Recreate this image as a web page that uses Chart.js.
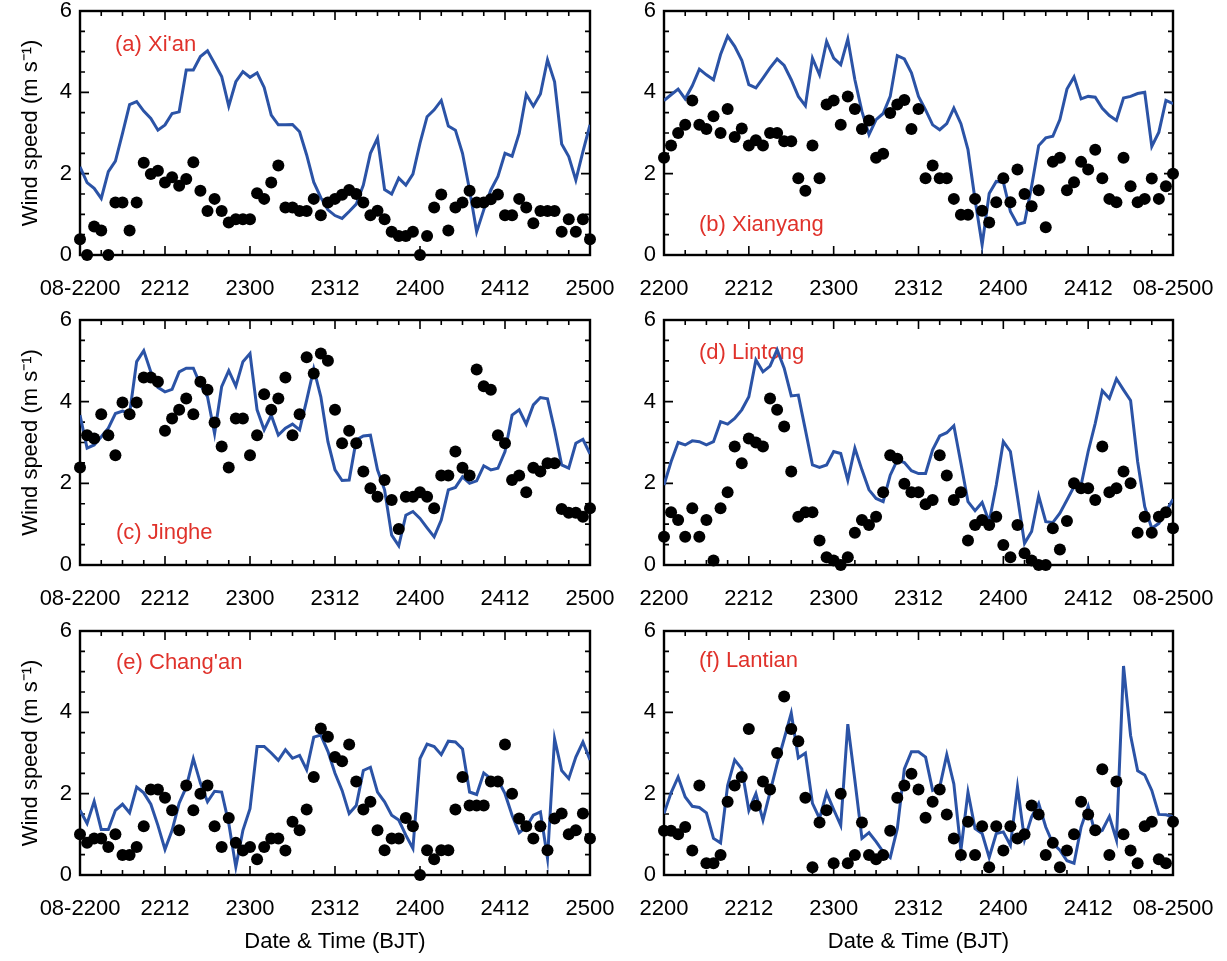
<!DOCTYPE html>
<html>
<head>
<meta charset="utf-8">
<script src="https://cdn.jsdelivr.net/npm/chart.js@4/dist/chart.umd.min.js"></script>
<style>
  body { margin: 0; background: #fff; }
  #wrap { position: relative; width: 1227px; height: 961px; overflow: hidden; }
  #wrap canvas { position: absolute; }
</style>
</head>
<body>
<div id="wrap"></div>
<script>
// hours since 08-22 00 BJT, hourly to 08-25 00
const hours = [];
for (let h = 0; h <= 72; h++) hours.push(h);

const tickLeft = ['08-2200', '2212', '2300', '2312', '2400', '2412', '2500'];
const tickRight = ['2200', '2212', '2300', '2312', '2400', '2412', '08-2500'];

// (a) Xi'an
const simXian = [2.17, 1.78, 1.64, 1.39, 2.05, 2.31, 2.99, 3.70, 3.77, 3.54,
    3.36, 3.07, 3.20, 3.48, 3.52, 4.55, 4.55, 4.88, 5.02, 4.71,
    4.39, 3.66, 4.26, 4.51, 4.37, 4.48, 4.12, 3.44, 3.20, 3.20,
    3.21, 3.03, 2.46, 1.79, 1.41, 1.11, 0.97, 0.90, 1.07, 1.25,
    1.72, 2.50, 2.87, 1.61, 1.50, 1.89, 1.72, 1.99, 2.75, 3.40,
    3.57, 3.80, 3.17, 3.07, 2.50, 1.60, 0.57, 1.11, 1.60, 1.93,
    2.50, 2.43, 2.99, 3.95, 3.66, 3.96, 4.80, 4.26, 2.73, 2.42,
    1.84, 2.54, 3.20];
const obsXian = [0.39, 0, 0.70, 0.60, 0, 1.29, 1.29, 0.60, 1.29, 2.27,
    1.99, 2.07, 1.78, 1.91, 1.70, 1.87, 2.28, 1.58, 1.08, 1.38,
    1.08, 0.80, 0.88, 0.88, 0.88, 1.52, 1.38, 1.78, 2.20, 1.17,
    1.17, 1.08, 1.08, 1.38, 0.98, 1.29, 1.38, 1.48, 1.60, 1.50,
    1.29, 0.98, 1.09, 0.88, 0.57, 0.47, 0.47, 0.57, 0, 0.47,
    1.17, 1.49, 0.60, 1.17, 1.29, 1.58, 1.29, 1.29, 1.37, 1.49,
    0.98, 0.98, 1.38, 1.17, 0.78, 1.08, 1.08, 1.08, 0.57, 0.88,
    0.57, 0.88, 0.39];

// (b) Xianyang
const simXianyang = [3.80, 3.94, 4.08, 3.84, 4.16, 4.57, 4.43, 4.31, 4.93, 5.38,
    5.13, 4.79, 4.19, 4.11, 4.35, 4.60, 4.82, 4.66, 4.31, 3.90,
    3.67, 4.84, 4.43, 5.25, 4.84, 4.68, 5.31, 4.31, 3.53, 2.96,
    3.33, 3.48, 3.90, 4.90, 4.82, 4.48, 3.90, 3.57, 3.20, 3.08,
    3.23, 3.61, 3.23, 2.59, 1.36, 0.25, 1.51, 1.81, 1.79, 1.07,
    0.75, 0.80, 1.69, 2.69, 2.88, 2.92, 3.33, 4.08, 4.38, 3.84,
    3.90, 3.88, 3.61, 3.43, 3.31, 3.86, 3.90, 3.97, 4.00, 2.67,
    3.02, 3.80, 3.72];
const obsXianyang = [2.39, 2.69, 3.00, 3.20, 3.80, 3.20, 3.10, 3.41, 3.00, 3.59,
    2.90, 3.11, 2.69, 2.82, 2.69, 3.00, 3.00, 2.80, 2.80, 1.89,
    1.58, 2.69, 1.89, 3.70, 3.80, 3.20, 3.90, 3.59, 3.10, 3.31,
    2.39, 2.49, 3.49, 3.70, 3.81, 3.10, 3.59, 1.89, 2.20, 1.89,
    1.89, 1.38, 0.99, 0.99, 1.38, 1.09, 0.80, 1.30, 1.89, 1.30,
    2.10, 1.50, 1.20, 1.59, 0.68, 2.29, 2.39, 1.59, 1.79, 2.29,
    2.10, 2.59, 1.89, 1.38, 1.30, 2.39, 1.69, 1.30, 1.38, 1.88,
    1.38, 1.69, 2.00];

// (c) Jinghe
const simJinghe = [3.67, 2.86, 2.94, 3.14, 3.35, 3.71, 3.77, 3.71, 4.98, 5.25,
    4.73, 4.35, 4.24, 4.30, 4.73, 4.82, 4.82, 4.41, 4.12, 3.22,
    4.37, 4.76, 4.38, 4.98, 5.18, 3.80, 3.31, 3.67, 3.18, 3.35,
    3.45, 3.31, 4.04, 4.80, 4.12, 3.02, 2.33, 2.07, 2.08, 3.06,
    3.16, 3.18, 2.33, 1.84, 0.73, 0.47, 1.22, 1.31, 1.14, 0.91,
    0.69, 1.10, 1.84, 1.90, 2.16, 2.00, 2.06, 2.43, 2.33, 2.37,
    2.78, 3.67, 3.80, 3.45, 3.92, 4.10, 4.07, 3.31, 2.45, 2.37,
    2.98, 3.08, 2.72];
const obsJinghe = [2.39, 3.18, 3.10, 3.69, 3.18, 2.69, 3.98, 3.69, 3.98, 4.59,
    4.59, 4.49, 3.29, 3.59, 3.80, 4.08, 3.69, 4.49, 4.29, 3.49,
    2.90, 2.39, 3.59, 3.59, 2.69, 3.18, 4.18, 3.80, 4.08, 4.59,
    3.18, 3.69, 5.09, 4.69, 5.18, 5.00, 3.80, 2.98, 3.29, 2.98,
    2.29, 1.88, 1.67, 2.08, 1.59, 0.88, 1.67, 1.67, 1.78, 1.67,
    1.39, 2.19, 2.19, 2.78, 2.38, 2.19, 4.79, 4.38, 4.29, 3.18,
    2.98, 2.08, 2.19, 1.78, 2.38, 2.29, 2.49, 2.49, 1.37, 1.28,
    1.28, 1.18, 1.39];

// (d) Lintong
const simLintong = [1.96, 2.53, 3.00, 2.94, 3.04, 3.02, 2.94, 3.02, 3.51, 3.45,
    3.59, 3.80, 4.12, 5.02, 4.73, 4.87, 5.27, 4.82, 4.14, 4.16,
    3.31, 2.45, 2.39, 2.45, 2.78, 2.73, 2.08, 2.86, 2.33, 1.84,
    1.63, 1.55, 2.20, 2.57, 2.51, 2.31, 2.24, 2.24, 2.82, 3.16,
    3.24, 3.41, 2.49, 1.55, 1.33, 1.53, 1.06, 1.96, 3.02, 2.78,
    1.67, 0.53, 0.82, 1.69, 1.06, 1.04, 1.27, 1.59, 1.92, 1.96,
    2.78, 3.47, 4.27, 4.08, 4.56, 4.29, 4.03, 2.53, 1.43, 0.90,
    1.02, 1.31, 1.61];
const obsLintong = [0.69, 1.29, 1.10, 0.69, 1.39, 0.69, 1.10, 0.11, 1.39, 1.78,
    2.90, 2.49, 3.10, 3.00, 2.90, 4.08, 3.80, 3.39, 2.29, 1.18,
    1.29, 1.29, 0.60, 0.19, 0.11, 0, 0.19, 0.79, 1.10, 0.98,
    1.18, 1.78, 2.69, 2.60, 1.99, 1.78, 1.78, 1.49, 1.59, 2.69,
    2.19, 1.59, 1.78, 0.60, 0.98, 1.10, 0.98, 1.18, 0.49, 0.19,
    0.98, 0.29, 0.11, 0, 0, 0.90, 0.38, 1.08, 2.00, 1.88,
    1.88, 1.59, 2.90, 1.78, 1.88, 2.29, 2.00, 0.79, 1.18, 0.79,
    1.18, 1.29, 0.90];

// (e) Chang'an
const simChangan = [1.59, 1.27, 1.81, 1.12, 1.12, 1.59, 1.74, 1.53, 2.16, 2.02,
    1.74, 1.22, 0.63, 1.10, 1.77, 2.16, 2.86, 2.26, 1.80, 2.06,
    2.04, 1.27, 0.20, 1.10, 1.63, 3.16, 3.16, 3.00, 2.82, 3.08,
    2.87, 2.94, 2.59, 3.39, 3.44, 3.04, 2.50, 2.08, 1.51, 1.71,
    2.57, 2.65, 2.04, 1.80, 1.47, 1.35, 0.98, 0.65, 2.86, 3.22,
    3.16, 2.96, 3.29, 3.27, 3.10, 2.04, 1.98, 2.51, 2.37, 2.34,
    2.00, 1.47, 1.04, 1.18, 1.47, 1.55, 0.41, 3.35, 2.57, 2.37,
    2.90, 3.27, 2.83];
const obsChangan = [1.00, 0.79, 0.90, 0.90, 0.69, 1.00, 0.49, 0.49, 0.69, 1.20,
    2.10, 2.10, 1.90, 1.59, 1.10, 2.20, 1.59, 2.00, 2.20, 1.20,
    0.69, 1.40, 0.79, 0.60, 0.69, 0.39, 0.69, 0.90, 0.90, 0.60,
    1.31, 1.10, 1.61, 2.41, 3.60, 3.40, 2.90, 2.80, 3.21, 2.30,
    1.61, 1.80, 1.10, 0.61, 0.90, 0.90, 1.40, 1.20, 0, 0.61,
    0.39, 0.61, 0.61, 1.61, 2.41, 1.71, 1.71, 1.71, 2.30, 2.30,
    3.21, 2.00, 1.39, 1.20, 0.90, 1.20, 0.61, 1.39, 1.51, 1.00,
    1.10, 1.51, 0.90];

// (f) Lantian
const simLantian = [1.51, 2.02, 2.41, 1.92, 1.69, 1.66, 1.53, 0.90, 0.79, 2.20,
    2.83, 2.61, 1.59, 2.00, 1.35, 2.04, 2.73, 3.35, 3.98, 2.88,
    3.00, 1.76, 1.39, 2.02, 1.61, 1.22, 3.71, 2.33, 0.90, 1.04,
    0.82, 0.57, 0.43, 1.14, 2.61, 3.03, 3.03, 2.90, 2.08, 2.16,
    2.96, 2.24, 0.61, 2.04, 1.14, 1.02, 0.43, 1.02, 1.06, 0.73,
    2.16, 0.87, 1.43, 1.76, 1.18, 0.78, 0.61, 0.35, 0.29, 1.18,
    1.69, 1.02, 1.10, 1.44, 0.86, 5.14, 3.43, 2.56, 2.46, 2.08,
    1.49, 1.48, 1.43];
const obsLantian = [1.09, 1.09, 1.00, 1.18, 0.60, 2.20, 0.29, 0.29, 0.49, 1.80,
    2.20, 2.41, 3.59, 1.70, 2.30, 2.10, 3.00, 4.39, 3.59, 3.29,
    1.90, 0.19, 1.29, 1.59, 0.29, 2.00, 0.29, 0.49, 1.29, 0.49,
    0.39, 0.49, 1.09, 1.90, 2.20, 2.49, 2.10, 1.41, 1.80, 2.10,
    1.49, 0.90, 0.49, 1.31, 0.49, 1.20, 0.19, 1.20, 0.60, 1.20,
    0.90, 1.00, 1.71, 1.49, 0.49, 0.79, 0.19, 0.60, 1.00, 1.80,
    1.49, 1.10, 2.60, 0.49, 2.30, 1.00, 0.60, 0.29, 1.20, 1.31,
    0.39, 0.29, 1.31];

const panels = [
    { name: "(a) Xi'an", sim: simXian, obs: obsXian, ticks: tickLeft, col: 0, row: 0, lx: 35, ly: 34 },
    { name: '(b) Xianyang', sim: simXianyang, obs: obsXianyang, ticks: tickRight, col: 1, row: 0, lx: 35, ly: 214 },
    { name: '(c) Jinghe', sim: simJinghe, obs: obsJinghe, ticks: tickLeft, col: 0, row: 1, lx: 36, ly: 213 },
    { name: '(d) Lintong', sim: simLintong, obs: obsLintong, ticks: tickRight, col: 1, row: 1, lx: 35, ly: 33 },
    { name: "(e) Chang'an", sim: simChangan, obs: obsChangan, ticks: tickLeft, col: 0, row: 2, lx: 36, ly: 32 },
    { name: '(f) Lantian', sim: simLantian, obs: obsLantian, ticks: tickRight, col: 1, row: 2, lx: 35, ly: 30 },
];

// canvas placement per column / row
const cols = [
    { left: 0, width: 620, yWidth: 80, padRight: 30 },
    { left: 605, width: 622, yWidth: 59, padRight: 54 },
];
const rows = [
    { top: 0, height: 300, padTop: 11, xHeight: 45 },
    { top: 305, height: 305, padTop: 15, xHeight: 45 },
    { top: 616, height: 345, padTop: 15, xHeight: 86 },
];

const FONT = 'Helvetica, Arial, "Liberation Sans", sans-serif';
Chart.defaults.font.family = FONT;
Chart.defaults.font.size = 22;
Chart.defaults.color = '#000';

// box, inward ticks (IDL style) and the station label
const framePlugin = {
    id: 'frame',
    beforeDatasetsDraw(chart, args, opts) {
        const { ctx, chartArea: a, scales: { x, y } } = chart;
        ctx.save();
        ctx.strokeStyle = '#000';
        ctx.lineWidth = 1.6;
        ctx.beginPath();
        for (let h = 0; h <= 72; h += 3) {
            const px = x.getPixelForValue(h);
            const len = h % 12 === 0 ? 9 : 5;
            ctx.moveTo(px, a.bottom); ctx.lineTo(px, a.bottom - len);
            ctx.moveTo(px, a.top); ctx.lineTo(px, a.top + len);
        }
        for (let v = 0; v <= 6; v += 0.5) {
            const py = y.getPixelForValue(v);
            const len = v % 2 === 0 ? 9 : 5;
            ctx.moveTo(a.left, py); ctx.lineTo(a.left + len, py);
            ctx.moveTo(a.right, py); ctx.lineTo(a.right - len, py);
        }
        ctx.stroke();
        ctx.lineWidth = 2.4;
        ctx.strokeRect(a.left, a.top, a.right - a.left, a.bottom - a.top);

        ctx.fillStyle = '#e0322b';
        ctx.font = '22px ' + FONT;
        ctx.textBaseline = 'middle';
        ctx.textAlign = 'left';
        ctx.fillText(opts.name, a.left + opts.lx, a.top + opts.ly);
        ctx.restore();
    }
};

const wrap = document.getElementById('wrap');

panels.forEach(function (p) {
    const c = cols[p.col];
    const r = rows[p.row];
    const canvas = document.createElement('canvas');
    canvas.width = c.width;
    canvas.height = r.height;
    canvas.style.left = c.left + 'px';
    canvas.style.top = r.top + 'px';
    canvas.style.width = c.width + 'px';
    canvas.style.height = r.height + 'px';
    wrap.appendChild(canvas);

    new Chart(canvas, {
        type: 'line',
        data: {
            labels: hours,
            datasets: [
                {
                    label: 'Observed',
                    data: p.obs,
                    showLine: false,
                    pointRadius: 6,
                    pointBackgroundColor: '#000',
                    pointBorderWidth: 0,
                    clip: false,
                },
                {
                    label: 'Simulated',
                    data: p.sim,
                    borderColor: '#2b53a6',
                    borderWidth: 3,
                    pointRadius: 0,
                    tension: 0,
                },
            ],
        },
        options: {
            responsive: false,
            animation: false,
            layout: { padding: { top: r.padTop, right: c.padRight, left: 0, bottom: 0 } },
            plugins: {
                legend: { display: false },
                tooltip: { enabled: false },
                frame: { name: p.name, lx: p.lx, ly: p.ly },
            },
            scales: {
                x: {
                    type: 'linear',
                    min: 0,
                    max: 72,
                    grid: { display: false, drawTicks: false },
                    border: { display: false },
                    ticks: {
                        stepSize: 12,
                        padding: 21,
                        maxRotation: 0,
                        autoSkip: false,
                        callback: function (v) { return p.ticks[v / 12]; },
                    },
                    title: {
                        display: p.row === 2,
                        text: 'Date & Time (BJT)',
                        padding: { top: 0, bottom: 6 },
                    },
                    afterFit: function (s) {
                        s.height = r.xHeight;
                        s.paddingLeft = 0;
                        s.paddingRight = 0;
                    },
                },
                y: {
                    min: 0,
                    max: 6,
                    grid: { display: false, drawTicks: false },
                    border: { display: false },
                    ticks: { stepSize: 2, padding: 8 },
                    title: {
                        display: p.col === 0,
                        text: 'Wind speed (m s\u207B\u00B9)',
                        padding: { top: 18, bottom: 0 },
                    },
                    afterFit: function (s) {
                        s.width = c.yWidth;
                        s.paddingTop = 0;
                        s.paddingBottom = 0;
                    },
                },
            },
        },
        plugins: [framePlugin],
    });
});
</script>
</body>
</html>
